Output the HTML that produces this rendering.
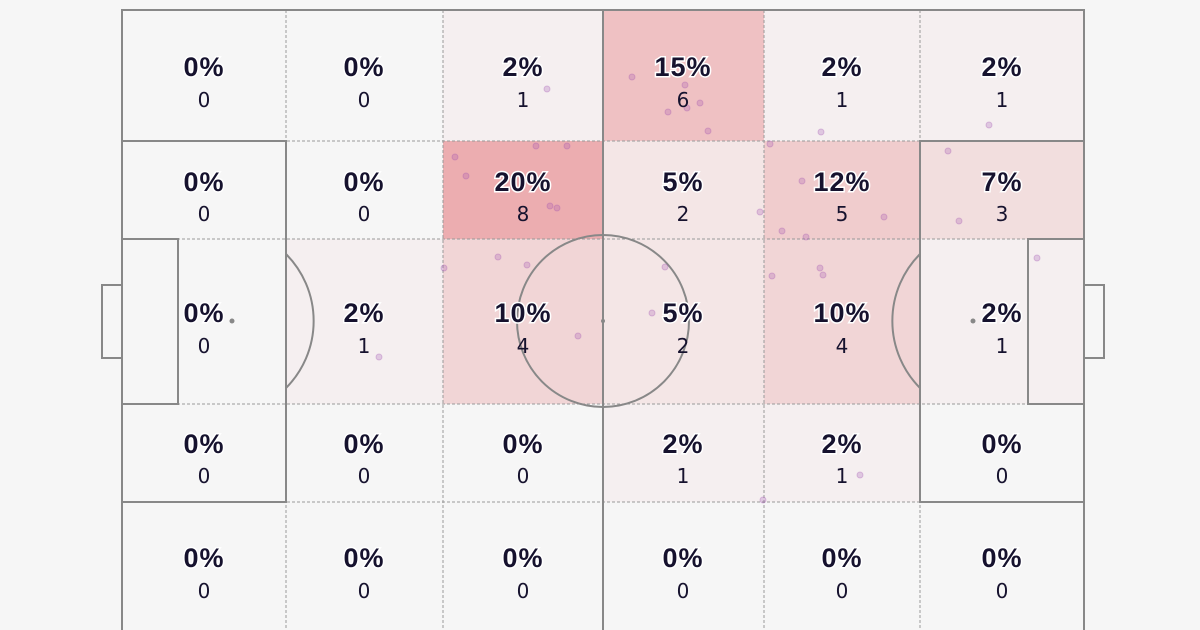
<!DOCTYPE html>
<html><head><style>
html,body{margin:0;padding:0;background:#f6f6f6;}
svg{display:block}
.p{font-family:"Liberation Sans",sans-serif;font-weight:bold;font-size:27px;fill:#16122e;stroke:#fff;stroke-width:3;paint-order:stroke;text-anchor:middle;letter-spacing:1px}
.c{font-family:"DejaVu Sans","Liberation Sans",sans-serif;font-size:20px;fill:#16122e;text-anchor:middle}
</style></head><body>
<svg width="1200" height="630" viewBox="0 0 1200 630" xmlns="http://www.w3.org/2000/svg">
<rect width="1200" height="630" fill="#f6f6f6"/>
<g fill="#e0555a">
<rect x="443" y="10" width="160" height="131" fill-opacity="0.04"/>
<rect x="603" y="10" width="161" height="131" fill-opacity="0.33"/>
<rect x="764" y="10" width="156" height="131" fill-opacity="0.04"/>
<rect x="920" y="10" width="164" height="131" fill-opacity="0.04"/>
<rect x="443" y="141" width="160" height="98" fill-opacity="0.45"/>
<rect x="603" y="141" width="161" height="98" fill-opacity="0.1"/>
<rect x="764" y="141" width="156" height="98" fill-opacity="0.26"/>
<rect x="920" y="141" width="164" height="98" fill-opacity="0.15"/>
<rect x="286" y="239" width="157" height="165" fill-opacity="0.04"/>
<rect x="443" y="239" width="160" height="165" fill-opacity="0.2"/>
<rect x="603" y="239" width="161" height="165" fill-opacity="0.1"/>
<rect x="764" y="239" width="156" height="165" fill-opacity="0.2"/>
<rect x="920" y="239" width="164" height="165" fill-opacity="0.04"/>
<rect x="603" y="404" width="161" height="98" fill-opacity="0.04"/>
<rect x="764" y="404" width="156" height="98" fill-opacity="0.04"/>
</g>
<g stroke="#999" stroke-width="1" stroke-dasharray="3,2" fill="none">
<line x1="286" y1="10" x2="286" y2="630"/><line x1="443" y1="10" x2="443" y2="630"/>
<line x1="764" y1="10" x2="764" y2="630"/><line x1="920" y1="10" x2="920" y2="630"/>
<line x1="122" y1="141" x2="1084" y2="141"/><line x1="122" y1="239" x2="1084" y2="239"/>
<line x1="122" y1="404" x2="1084" y2="404"/><line x1="122" y1="502" x2="1084" y2="502"/>
</g>
<g stroke="#888" stroke-width="2" fill="none">
<rect x="122" y="10" width="962" height="640"/>
<line x1="603" y1="10" x2="603" y2="630"/>
<circle cx="603" cy="321" r="86"/>
<rect x="122" y="141" width="164" height="361"/>
<rect x="122" y="239" width="56" height="165"/>
<rect x="102" y="285" width="20" height="73"/>
<rect x="920" y="141" width="164" height="361"/>
<rect x="1028" y="239" width="56" height="165"/>
<rect x="1084" y="285" width="20" height="73"/>
<path d="M286 254 A95 95 0 0 1 286 388"/>
<path d="M920 254 A95 95 0 0 0 920 388"/>
</g>
<circle cx="603" cy="321" r="2" fill="#888"/>
<circle cx="232" cy="321" r="2.5" fill="#888"/>
<circle cx="973" cy="321" r="2.5" fill="#888"/>
<g fill="#a050b0" fill-opacity="0.25" stroke="#a050b0" stroke-opacity="0.3">
<circle cx="547" cy="89" r="3"/><circle cx="632" cy="77" r="3"/><circle cx="685" cy="85" r="3"/><circle cx="700" cy="103" r="3"/>
<circle cx="668" cy="112" r="3"/><circle cx="687" cy="108" r="3"/><circle cx="708" cy="131" r="3"/><circle cx="821" cy="132" r="3"/><circle cx="989" cy="125" r="3"/>
<circle cx="455" cy="157" r="3"/><circle cx="466" cy="176" r="3"/><circle cx="536" cy="146" r="3"/><circle cx="567" cy="146" r="3"/><circle cx="550" cy="206" r="3"/><circle cx="557" cy="208" r="3"/>
<circle cx="770" cy="144" r="3"/><circle cx="802" cy="181" r="3"/><circle cx="884" cy="217" r="3"/><circle cx="948" cy="151" r="3"/><circle cx="959" cy="221" r="3"/>
<circle cx="760" cy="212" r="3"/><circle cx="782" cy="231" r="3"/><circle cx="806" cy="237" r="3"/><circle cx="1037" cy="258" r="3"/>
<circle cx="444" cy="268" r="3"/><circle cx="498" cy="257" r="3"/><circle cx="527" cy="265" r="3"/><circle cx="578" cy="336" r="3"/><circle cx="665" cy="267" r="3"/>
<circle cx="652" cy="313" r="3"/><circle cx="772" cy="276" r="3"/><circle cx="820" cy="268" r="3"/><circle cx="823" cy="275" r="3"/><circle cx="379" cy="357" r="3"/>
<circle cx="860" cy="475" r="3"/><circle cx="763" cy="500" r="3"/>
</g>
<g>
<text class="p" x="204" y="76">0%</text><text class="c" x="204" y="107">0</text>
<text class="p" x="364" y="76">0%</text><text class="c" x="364" y="107">0</text>
<text class="p" x="523" y="76">2%</text><text class="c" x="523" y="107">1</text>
<text class="p" x="683" y="76">15%</text><text class="c" x="683" y="107">6</text>
<text class="p" x="842" y="76">2%</text><text class="c" x="842" y="107">1</text>
<text class="p" x="1002" y="76">2%</text><text class="c" x="1002" y="107">1</text>

<text class="p" x="204" y="191">0%</text><text class="c" x="204" y="221">0</text>
<text class="p" x="364" y="191">0%</text><text class="c" x="364" y="221">0</text>
<text class="p" x="523" y="191">20%</text><text class="c" x="523" y="221">8</text>
<text class="p" x="683" y="191">5%</text><text class="c" x="683" y="221">2</text>
<text class="p" x="842" y="191">12%</text><text class="c" x="842" y="221">5</text>
<text class="p" x="1002" y="191">7%</text><text class="c" x="1002" y="221">3</text>

<text class="p" x="204" y="322">0%</text><text class="c" x="204" y="353">0</text>
<text class="p" x="364" y="322">2%</text><text class="c" x="364" y="353">1</text>
<text class="p" x="523" y="322">10%</text><text class="c" x="523" y="353">4</text>
<text class="p" x="683" y="322">5%</text><text class="c" x="683" y="353">2</text>
<text class="p" x="842" y="322">10%</text><text class="c" x="842" y="353">4</text>
<text class="p" x="1002" y="322">2%</text><text class="c" x="1002" y="353">1</text>

<text class="p" x="204" y="453">0%</text><text class="c" x="204" y="483">0</text>
<text class="p" x="364" y="453">0%</text><text class="c" x="364" y="483">0</text>
<text class="p" x="523" y="453">0%</text><text class="c" x="523" y="483">0</text>
<text class="p" x="683" y="453">2%</text><text class="c" x="683" y="483">1</text>
<text class="p" x="842" y="453">2%</text><text class="c" x="842" y="483">1</text>
<text class="p" x="1002" y="453">0%</text><text class="c" x="1002" y="483">0</text>

<text class="p" x="204" y="567">0%</text><text class="c" x="204" y="598">0</text>
<text class="p" x="364" y="567">0%</text><text class="c" x="364" y="598">0</text>
<text class="p" x="523" y="567">0%</text><text class="c" x="523" y="598">0</text>
<text class="p" x="683" y="567">0%</text><text class="c" x="683" y="598">0</text>
<text class="p" x="842" y="567">0%</text><text class="c" x="842" y="598">0</text>
<text class="p" x="1002" y="567">0%</text><text class="c" x="1002" y="598">0</text>
</g>
</svg>
</body></html>
